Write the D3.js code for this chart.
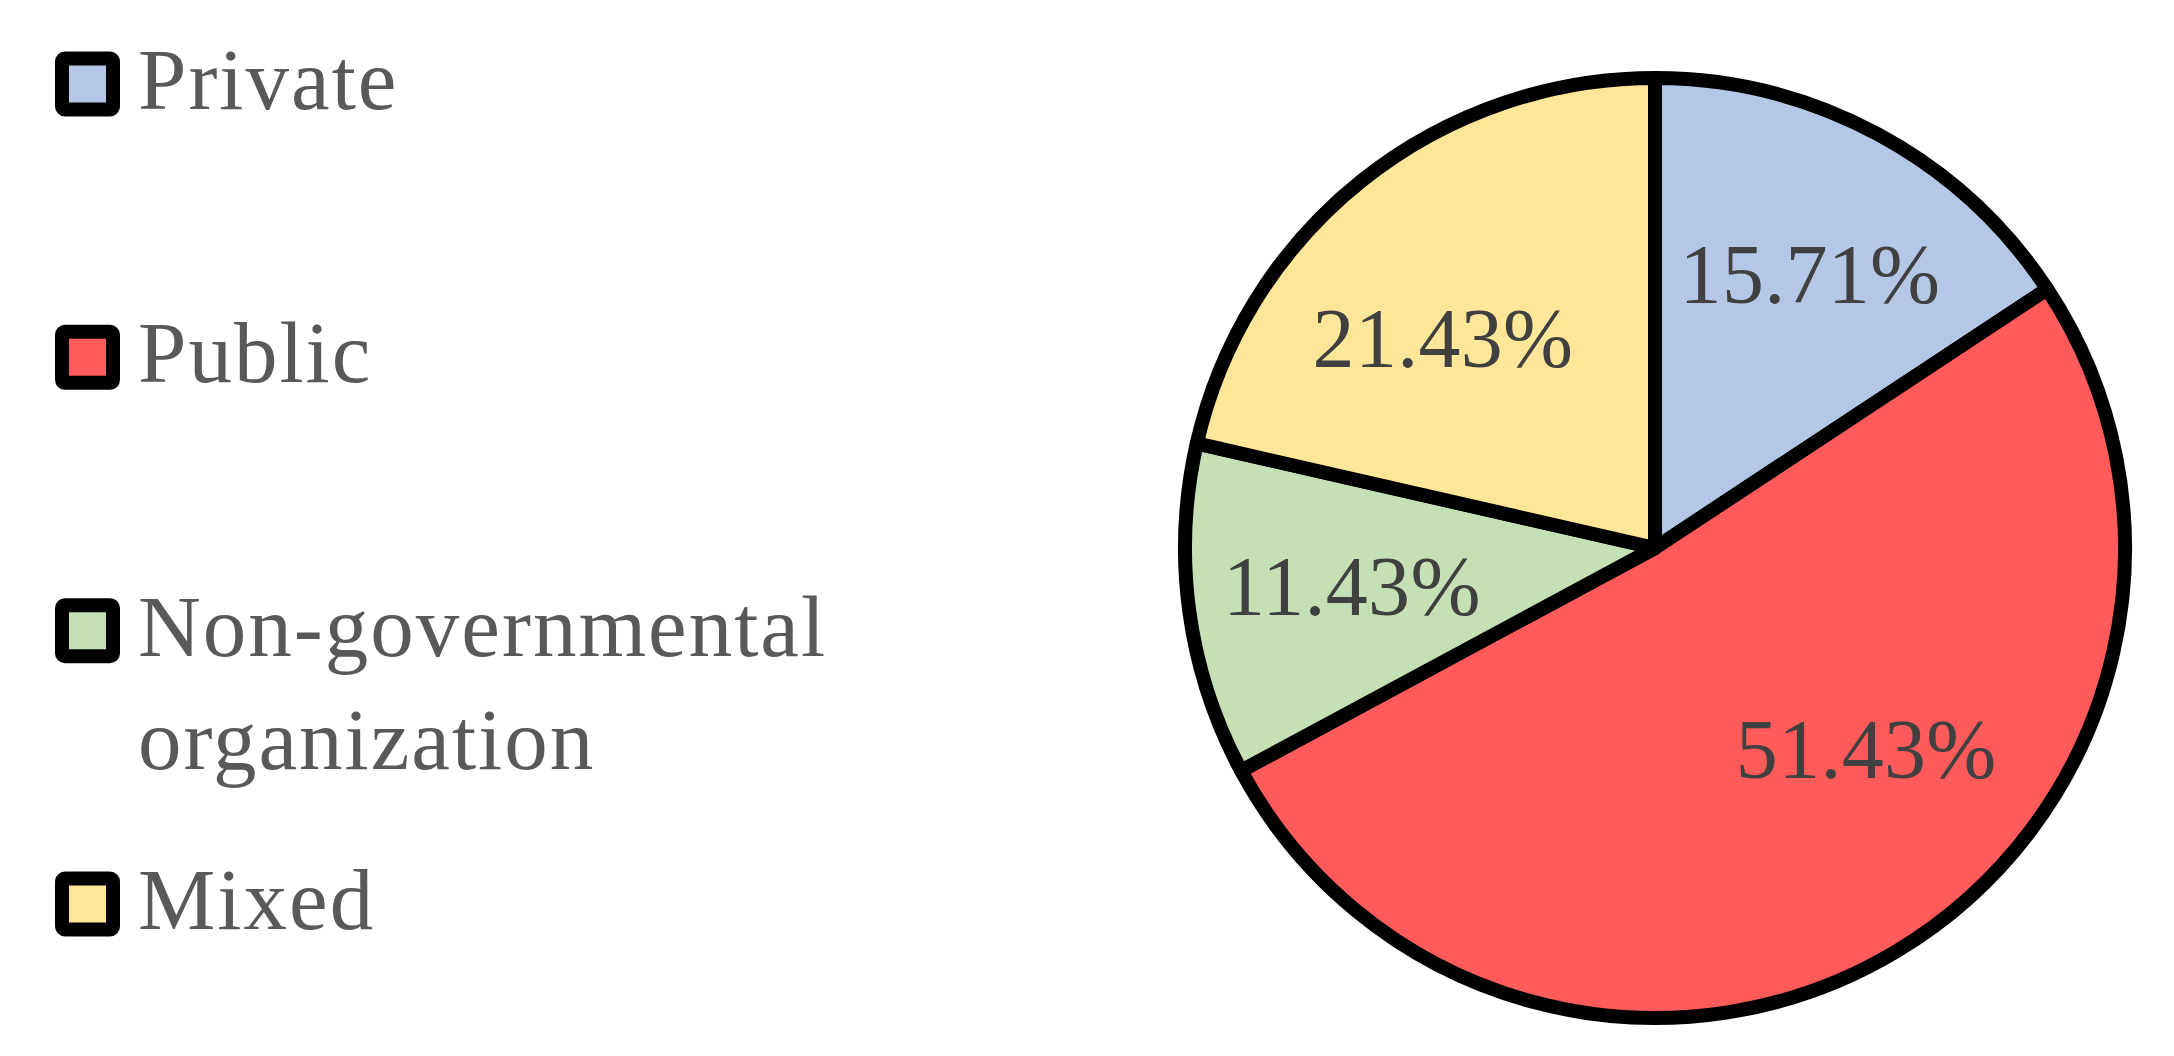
<!DOCTYPE html>
<html>
<head>
<meta charset="utf-8">
<script src="https://cdn.jsdelivr.net/npm/d3@7"></script>
<style>
  html, body { margin: 0; padding: 0; background: #fff; }
  svg { display: block; }
</style>
</head>
<body>
<script>
// chart data
var categories = ["Private", "Public", "Non-governmental organization", "Mixed"];
var counts = [11, 36, 8, 15];
var percentLabels = ["15.71%", "51.43%", "11.43%", "21.43%"];
var colors = ["#B4C7E7", "#FF5B5B", "#C5E0B4", "#FFE699"];
var legendLines = [["Private"], ["Public"], ["Non-governmental", "organization"], ["Mixed"]];

var width = 2174, height = 1056;
var cx = 1655, cy = 548, radius = 470;

// label placement tweaks (polar: radius fraction, angle offset in degrees)
var labelRadius = [0.67, 0.62, 0.65, 0.635];
var labelTurn = [1.2, -15.6, 0.6, -6.7];

var svg = d3.select("body").append("svg")
    .attr("width", width)
    .attr("height", height);

var data = categories.map(function(c, i) {
  return { name: c, value: counts[i], label: percentLabels[i], color: colors[i], lines: legendLines[i] };
});

var pie = d3.pie()
    .sort(null)
    .value(function(d) { return d.value; });

var arc = d3.arc()
    .innerRadius(0)
    .outerRadius(radius);

var g = svg.append("g")
    .attr("transform", "translate(" + cx + "," + cy + ")");

var arcs = pie(data);

g.selectAll("path")
    .data(arcs)
  .enter().append("path")
    .attr("d", arc)
    .attr("fill", function(d) { return d.data.color; })
    .attr("stroke", "#000")
    .attr("stroke-width", 14)
    .attr("stroke-linejoin", "round");

g.selectAll("text.pct")
    .data(arcs)
  .enter().append("text")
    .attr("class", "pct")
    .attr("transform", function(d, i) {
      var a = (d.startAngle + d.endAngle) / 2 + labelTurn[i] * Math.PI / 180;
      var r = radius * labelRadius[i];
      return "translate(" + (Math.sin(a) * r) + "," + (-Math.cos(a) * r) + ")";
    })
    .attr("dy", "0.35em")
    .attr("text-anchor", "middle")
    .style("font-family", "'Liberation Serif', serif")
    .style("font-size", "84px")
    .style("letter-spacing", "0.3px")
    .attr("fill", "#404040")
    .text(function(d) { return d.data.label; });

// legend
var y = d3.scalePoint()
    .domain(categories)
    .range([84, 904]);

var legend = svg.selectAll("g.legend")
    .data(data)
  .enter().append("g")
    .attr("class", "legend")
    .attr("transform", function(d) { return "translate(0," + y(d.name) + ")"; });

legend.append("rect")
    .attr("x", 62)
    .attr("y", -25.5)
    .attr("width", 51)
    .attr("height", 51)
    .attr("rx", 3)
    .attr("fill", function(d) { return d.color; })
    .attr("stroke", "#000")
    .attr("stroke-width", 14);

legend.each(function(d) {
  var t = d3.select(this).append("text")
      .attr("x", 138)
      .attr("y", 25)
      .style("font-family", "'Liberation Serif', serif")
      .style("font-size", "87px")
      .style("letter-spacing", "2px")
      .attr("fill", "#595959");
  d.lines.forEach(function(line, k) {
    t.append("tspan")
        .attr("x", 138)
        .attr("dy", k === 0 ? 0 : 113)
        .text(line);
  });
});
</script>
</body>
</html>
